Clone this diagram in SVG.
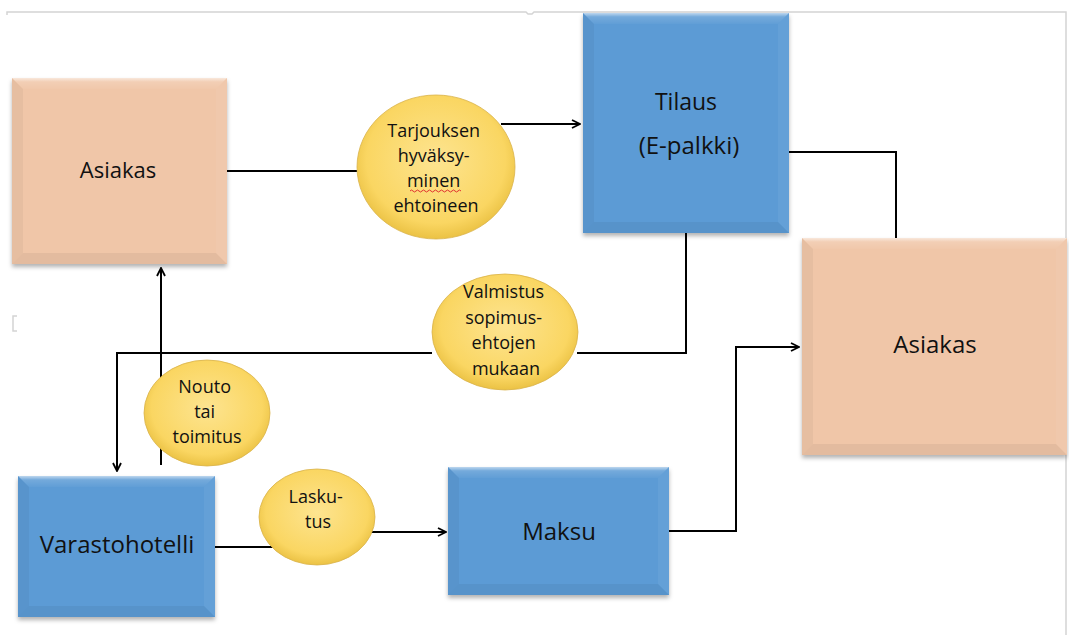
<svg xmlns="http://www.w3.org/2000/svg" width="1069" height="637" viewBox="0 0 1069 637">
  <defs>
    <filter id="shadow" x="-10%" y="-10%" width="120%" height="125%">
      <feDropShadow dx="0" dy="3" stdDeviation="2" flood-color="#000" flood-opacity="0.3"/>
    </filter>
    <radialGradient id="ball" cx="50%" cy="45%" r="55%">
      <stop offset="0" stop-color="#fde490"/>
      <stop offset="0.8" stop-color="#fad662"/>
      <stop offset="1" stop-color="#ebc244"/>
    </radialGradient>
    <linearGradient id="hiTop" x1="0" y1="0" x2="0" y2="1">
      <stop offset="0" stop-color="#fff" stop-opacity="0.6"/>
      <stop offset="0.35" stop-color="#fff" stop-opacity="0.15"/>
      <stop offset="1" stop-color="#fff" stop-opacity="0.03"/>
    </linearGradient>
    <marker id="arrow" viewBox="0 0 10 10" refX="9" refY="5" markerWidth="10" markerHeight="10" markerUnits="userSpaceOnUse" orient="auto">
      <path d="M1,1 L9,5 L1,9" fill="none" stroke="#000" stroke-width="1.8"/>
    </marker>
    <style>
      .blue { fill: #5b9bd5; }
      .peach { fill: #f0c6a8; }
      .bevL { fill: #000; opacity: 0.04; }
      .bevR { fill: #fff; opacity: 0.05; }
      .bevB { fill: #000; opacity: 0.05; }
      .bevT { fill: url(#hiTop); }
      .ball { fill: url(#ball); stroke: #d9b34a; stroke-width: 0.8; }
      .lbl { font-family: "Open Sans", "Liberation Sans", sans-serif; fill: #111; text-anchor: middle; }
      .wire { fill: none; stroke: #000; stroke-width: 2; }
      .frame { fill: none; stroke: #d4d4d4; stroke-width: 1.5; }
    </style>
  </defs>

  <rect width="1069" height="637" fill="#fff"/>

  <!-- canvas frame with its handles -->
  <g id="frame">
    <path class="frame" d="M7,15 V12 H526 L528,14 H532 L534,12 H1066 V635"/>
    <path class="frame" d="M17,316 H13 V331 H17"/>
  </g>

  <!-- connectors -->
  <g id="connectors">
    <path class="wire" d="M227,171 H357"/>
    <path class="wire" d="M501,124 H580" marker-end="url(#arrow)"/>
    <path class="wire" d="M789,152 H896 V238"/>
    <path class="wire" d="M686,233 V353 H577"/>
    <path class="wire" d="M432,353 H117 V471" marker-end="url(#arrow)"/>
    <path class="wire" d="M161,465 V268" marker-end="url(#arrow)"/>
    <path class="wire" d="M215,547 H275"/>
    <path class="wire" d="M370,532 H446" marker-end="url(#arrow)"/>
    <path class="wire" d="M669,531 H736 V347 H799" marker-end="url(#arrow)"/>
  </g>

  <!-- Asiakas (left) -->
  <g id="asiakas-left">
    <rect class="peach" x="12" y="78" width="215" height="186" filter="url(#shadow)"/>
    <polygon class="bevL" points="12,78 23,89 23,253 12,264"/>
    <polygon class="bevR" points="227,78 227,264 216,253 216,89"/>
    <polygon class="bevB" points="12,264 227,264 216,253 23,253"/>
    <polygon class="bevT" points="12,78 227,78 216,89 23,89"/>
    <text class="lbl" x="118" y="178" font-size="22">Asiakas</text>
  </g>

  <!-- Tilaus -->
  <g id="tilaus">
    <rect class="blue" x="583" y="13" width="206" height="220" filter="url(#shadow)"/>
    <polygon class="bevL" points="583,13 594,24 594,222 583,233"/>
    <polygon class="bevR" points="789,13 789,233 778,222 778,24"/>
    <polygon class="bevB" points="583,233 789,233 778,222 594,222"/>
    <polygon class="bevT" points="583,13 789,13 778,24 594,24"/>
    <text class="lbl" x="686" y="110" font-size="23">Tilaus</text>
    <text class="lbl" x="689" y="154" font-size="24">(E-palkki)</text>
  </g>

  <!-- Asiakas (right) -->
  <g id="asiakas-right">
    <rect class="peach" x="802" y="238" width="265" height="217" filter="url(#shadow)"/>
    <polygon class="bevL" points="802,238 813,249 813,444 802,455"/>
    <polygon class="bevR" points="1067,238 1067,455 1056,444 1056,249"/>
    <polygon class="bevB" points="802,455 1067,455 1056,444 813,444"/>
    <polygon class="bevT" points="802,238 1067,238 1056,249 813,249"/>
    <text class="lbl" x="935" y="353" font-size="24">Asiakas</text>
  </g>

  <!-- Varastohotelli -->
  <g id="varastohotelli">
    <rect class="blue" x="18" y="476" width="197" height="141" filter="url(#shadow)"/>
    <polygon class="bevL" points="18,476 29,487 29,606 18,617"/>
    <polygon class="bevR" points="215,476 215,617 204,606 204,487"/>
    <polygon class="bevB" points="18,617 215,617 204,606 29,606"/>
    <polygon class="bevT" points="18,476 215,476 204,487 29,487"/>
    <text class="lbl" x="117" y="553" font-size="24">Varastohotelli</text>
  </g>

  <!-- Maksu -->
  <g id="maksu">
    <rect class="blue" x="448" y="467" width="221" height="128" filter="url(#shadow)"/>
    <polygon class="bevL" points="448,467 459,478 459,584 448,595"/>
    <polygon class="bevR" points="669,467 669,595 658,584 658,478"/>
    <polygon class="bevB" points="448,595 669,595 658,584 459,584"/>
    <polygon class="bevT" points="448,467 669,467 658,478 459,478"/>
    <text class="lbl" x="559" y="540" font-size="24">Maksu</text>
  </g>

  <!-- Tarjouksen hyväksyminen -->
  <g id="tarjous">
    <ellipse class="ball" cx="436" cy="167" rx="79" ry="72"/>
    <text class="lbl" font-size="18">
      <tspan x="436" y="137">Tarjouksen</tspan>
      <tspan x="436" y="162">hyväksy-</tspan>
      <tspan x="436" y="187">minen</tspan>
      <tspan x="436" y="212">ehtoineen</tspan>
    </text>
    <path d="M410,191 q1.5,-2 3,0 t3,0 t3,0 t3,0 t3,0 t3,0 t3,0 t3,0 t3,0 t3,0 t3,0 t3,0 t3,0 t3,0 t3,0 t3,0 t3,0" fill="none" stroke="#e03030" stroke-width="1"/>
  </g>

  <!-- Valmistus -->
  <g id="valmistus">
    <ellipse class="ball" cx="505" cy="332" rx="73" ry="58"/>
    <text class="lbl" font-size="18">
      <tspan x="506" y="298">Valmistus</tspan>
      <tspan x="506" y="324">sopimus-</tspan>
      <tspan x="506" y="349">ehtojen</tspan>
      <tspan x="506" y="375">mukaan</tspan>
    </text>
  </g>

  <!-- Nouto tai toimitus -->
  <g id="nouto">
    <ellipse class="ball" cx="207" cy="413" rx="63" ry="53"/>
    <text class="lbl" font-size="18">
      <tspan x="207" y="393">Nouto</tspan>
      <tspan x="207" y="418">tai</tspan>
      <tspan x="207" y="443">toimitus</tspan>
    </text>
  </g>

  <!-- Laskutus -->
  <g id="laskutus">
    <ellipse class="ball" cx="317" cy="517" rx="58" ry="48"/>
    <text class="lbl" font-size="18">
      <tspan x="318" y="503">Lasku-</tspan>
      <tspan x="318" y="528">tus</tspan>
    </text>
  </g>
</svg>
